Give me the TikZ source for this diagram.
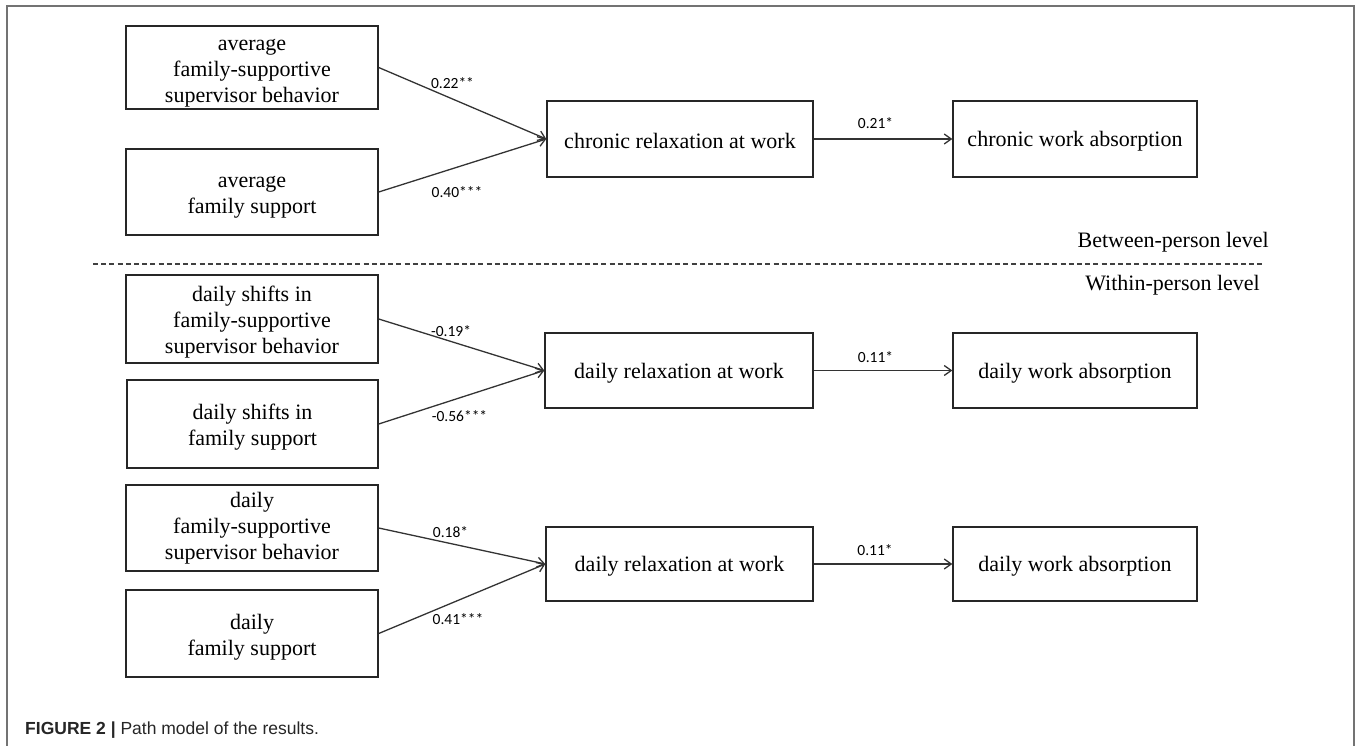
\documentclass[tikz,border=0pt]{standalone}
\usepackage{fontspec}
\setmainfont{Liberation Serif}
\newfontfamily\labfont{Carlito}
\newfontfamily\capfontfam{Liberation Sans}
\usetikzlibrary{arrows.meta}
\begin{document}
\begin{tikzpicture}[x=1pt,y=-1pt,
  box/.style={draw=black!85, line width=1.4pt, inner sep=0pt},
  btxt/.style={inner sep=0pt, align=center, font=\fontsize{22}{26}\selectfont},
  coef/.style={font=\labfont\fontsize{15.5}{18}\selectfont, inner sep=0pt},
  arr/.style={draw=black!80, line width=1.3pt, -{Straight Barb[length=7pt,width=10pt]}},
  lvl/.style={font=\fontsize{22}{26}\selectfont, inner sep=0pt, anchor=east},
  frame/.style={draw=black!55, line width=1.6pt},
]
\useasboundingbox (0,0) rectangle (1357,746);
\draw[frame] (7,750) -- (7,6) -- (1354,6) -- (1354,750);

% between-person
\node[box, minimum width=252pt, minimum height=83pt,
  label={[btxt,yshift=-5.5pt]center:{average\\family-supportive\\supervisor behavior}}] (a1) at (252,67.5) {};
\node[box, minimum width=252pt, minimum height=86pt,
  label={[btxt,yshift=-5pt]center:{average\\family support}}] (a2) at (252,192) {};
\node[box, minimum width=266pt, minimum height=76pt,
  label={[btxt,yshift=-2pt]center:{chronic relaxation at work}}] (r1) at (680,139) {};
\node[box, minimum width=244pt, minimum height=76pt,
  label={[btxt,yshift=-2pt]center:{chronic work absorption}}] (w1) at (1075,139) {};
\draw[arr] (a1.east) -- (r1.west);
\draw[arr] (a2.east) -- (r1.west);
\draw[arr] (r1.east) -- (w1.west);
\node[coef] (c11) at (452.5,83) {0.22**};
\node[coef] (c12) at (457,192) {0.40***};
\node[coef] (c13) at (875.5,123) {0.21*};

% separator
\coordinate (dl) at (93,264);
\coordinate (dr) at (1262,264);
\draw[black!75, line width=1.3pt, dash pattern=on 5pt off 3.2pt] (dl) -- (dr);
\node[lvl] (between) at (1269,242) {Between-person level};
\node[lvl] (within) at (1260,285) {Within-person level};

% within-person, shifts
\node[box, minimum width=252pt, minimum height=88pt,
  label={[btxt,yshift=-3pt]center:{daily shifts in\\family-supportive\\supervisor behavior}}] (b1) at (252,319) {};
\node[box, minimum width=251pt, minimum height=88pt,
  label={[btxt,yshift=-3pt]center:{daily shifts in\\family support}}] (b2) at (252.5,424) {};
\node[box, minimum width=268pt, minimum height=75pt,
  label={[btxt,yshift=-2.5pt]center:{daily relaxation at work}}] (r2) at (679,370.5) {};
\node[box, minimum width=244pt, minimum height=75pt,
  label={[btxt,yshift=-2.5pt]center:{daily work absorption}}] (w2) at (1075,370.5) {};
\draw[arr] (b1.east) -- (r2.west);
\draw[arr] (b2.east) -- (r2.west);
\draw[arr] (r2.east) -- (w2.west);
\node[coef] (c21) at (451,331) {-0.19*};
\node[coef] (c22) at (459.5,416) {-0.56***};
\node[coef] (c23) at (875.5,357) {0.11*};

% within-person, daily
\node[box, minimum width=252pt, minimum height=86pt,
  label={[btxt,yshift=-0.5pt]center:{daily\\family-supportive\\supervisor behavior}}] (d1) at (252,528) {};
\node[box, minimum width=252pt, minimum height=87pt,
  label={[btxt,yshift=-4pt]center:{daily\\family support}}] (d2) at (252,633.5) {};
\node[box, minimum width=267pt, minimum height=74pt,
  label={[btxt,yshift=-2.5pt]center:{daily relaxation at work}}] (r3) at (679.5,564) {};
\node[box, minimum width=244pt, minimum height=74pt,
  label={[btxt,yshift=-2.5pt]center:{daily work absorption}}] (w3) at (1075,564) {};
\draw[arr] (d1.east) -- (r3.west);
\draw[arr] (d2.east) -- (r3.west);
\draw[arr] (r3.east) -- (w3.west);
\node[coef] (c31) at (450.5,532) {0.18*};
\node[coef] (c32) at (458,619) {0.41***};
\node[coef] (c33) at (875,550) {0.11*};

% caption
\node[anchor=west, inner sep=0pt, text=black!85,
  font=\capfontfam\fontsize{17.5}{20}\selectfont] (caption) at (25,730)
  {\textbf{FIGURE 2 |} Path model of the results.};
\end{tikzpicture}
\end{document}
